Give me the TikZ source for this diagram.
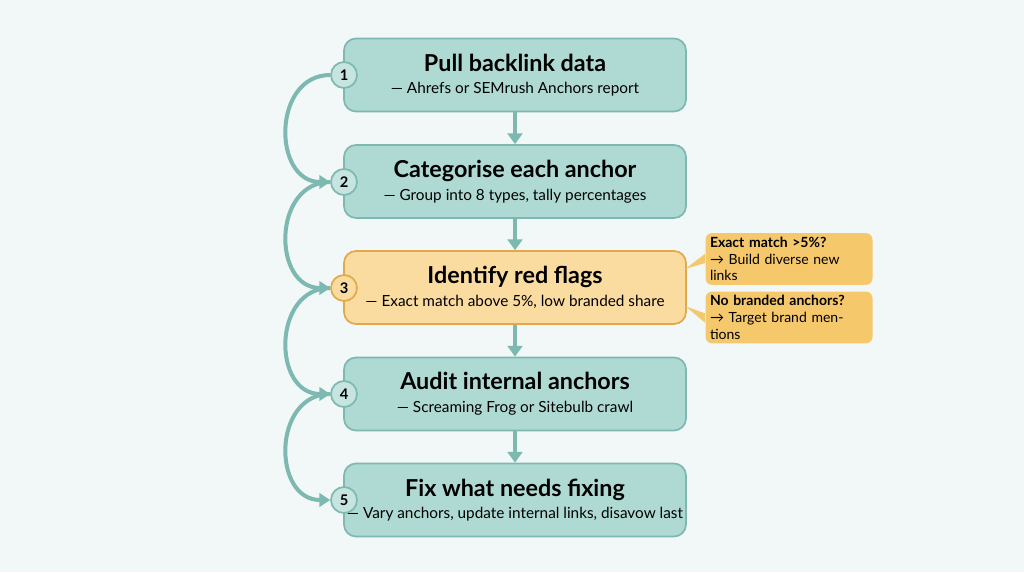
\documentclass[tikz,border=0pt]{standalone}
\usepackage{fontspec}
\setmainfont{Lato}
\usetikzlibrary{arrows.meta}
\definecolor{bg}{HTML}{F2F8F8}
\definecolor{tfill}{HTML}{AEDAD3}
\definecolor{tline}{HTML}{7DB8B1}
\definecolor{ofill}{HTML}{FBDCA0}
\definecolor{oline}{HTML}{E2A94C}
\definecolor{cfill}{HTML}{F5C86C}
\begin{document}
\begin{tikzpicture}[x=0.75pt,y=-0.75pt,
  stepbox/.style={draw=tline,fill=tfill,line width=1.3pt,rounded corners=9pt,minimum width=342*0.75pt,minimum height=73*0.75pt,align=center,inner sep=0pt},
  redbox/.style={stepbox,draw=oline,fill=ofill},
  num/.style={circle,draw=tline,fill=tfill!70!white,line width=1.3pt,minimum size=26*0.75pt,inner sep=0pt,font=\bfseries\fontsize{11}{12}\selectfont},
  callout/.style={fill=cfill,rounded corners=5pt,minimum width=167*0.75pt,minimum height=42*0.75pt,align=left,inner sep=3pt,font=\fontsize{10.5}{12.5}\selectfont,text width=158*0.75pt},
  flow/.style={-{Triangle[length=8pt,width=11pt]},draw=tline,line width=3pt},
  loop/.style={-{Triangle[length=8pt,width=10pt]},draw=tline,line width=3pt}]
\fill[bg] (0,0) rectangle (1024,572);
\useasboundingbox (0,0) rectangle (1024,572);
\newcommand{\steptext}[2]{{\fontsize{17.5}{20}\selectfont\bfseries #1}\\[5pt]{\fontsize{11.5}{13}\selectfont — #2}}
\node[stepbox] (b1) at (515,75) {\steptext{Pull backlink data}{Ahrefs or SEMrush Anchors report}};
\node[stepbox] (b2) at (515,181.5) {\steptext{Categorise each anchor}{Group into 8 types, tally percentages}};
\node[redbox] (b3) at (515,287.5) {\steptext{Identify red flags}{Exact match above 5\%, low branded share}};
\node[stepbox] (b4) at (515,394) {\steptext{Audit internal anchors}{Screaming Frog or Sitebulb crawl}};
\node[stepbox] (b5) at (515,500) {\steptext{Fix what needs fixing}{Vary anchors, update internal links, disavow last}};
\foreach \a/\b in {b1/b2,b2/b3,b3/b4,b4/b5} \draw[flow] (\a.south) -- (\b.north);
\node[num] (n1) at (344,75) {1};
\node[num] (n2) at (344,182) {2};
\node[num,draw=oline,fill=ofill] (n3) at (344,288) {3};
\node[num] (n4) at (344,394) {4};
\node[num] (n5) at (344,500) {5};
\foreach \a/\b in {n1/n2,n2/n3,n3/n4,n4/n5}
  \draw[loop] (\a.west) .. controls +(-58,0) and +(-58,0) .. (\b.west);
\node[callout] (c1) at (789,259) {\textbf{Exact match >5\%?}\\→ Build diverse new links};
\node[callout] (c2) at (789,317.5) {\textbf{No branded anchors?}\\→ Target brand mentions};
\fill[cfill] ([yshift=-3pt]c1.west) -- ([xshift=-1pt,yshift=-14pt]b3.north east) -- ([yshift=4pt]c1.west) -- cycle;
\fill[cfill] ([yshift=-4pt]c2.west) -- ([xshift=-1pt,yshift=14pt]b3.south east) -- ([yshift=3pt]c2.west) -- cycle;
\end{tikzpicture}
\end{document}
